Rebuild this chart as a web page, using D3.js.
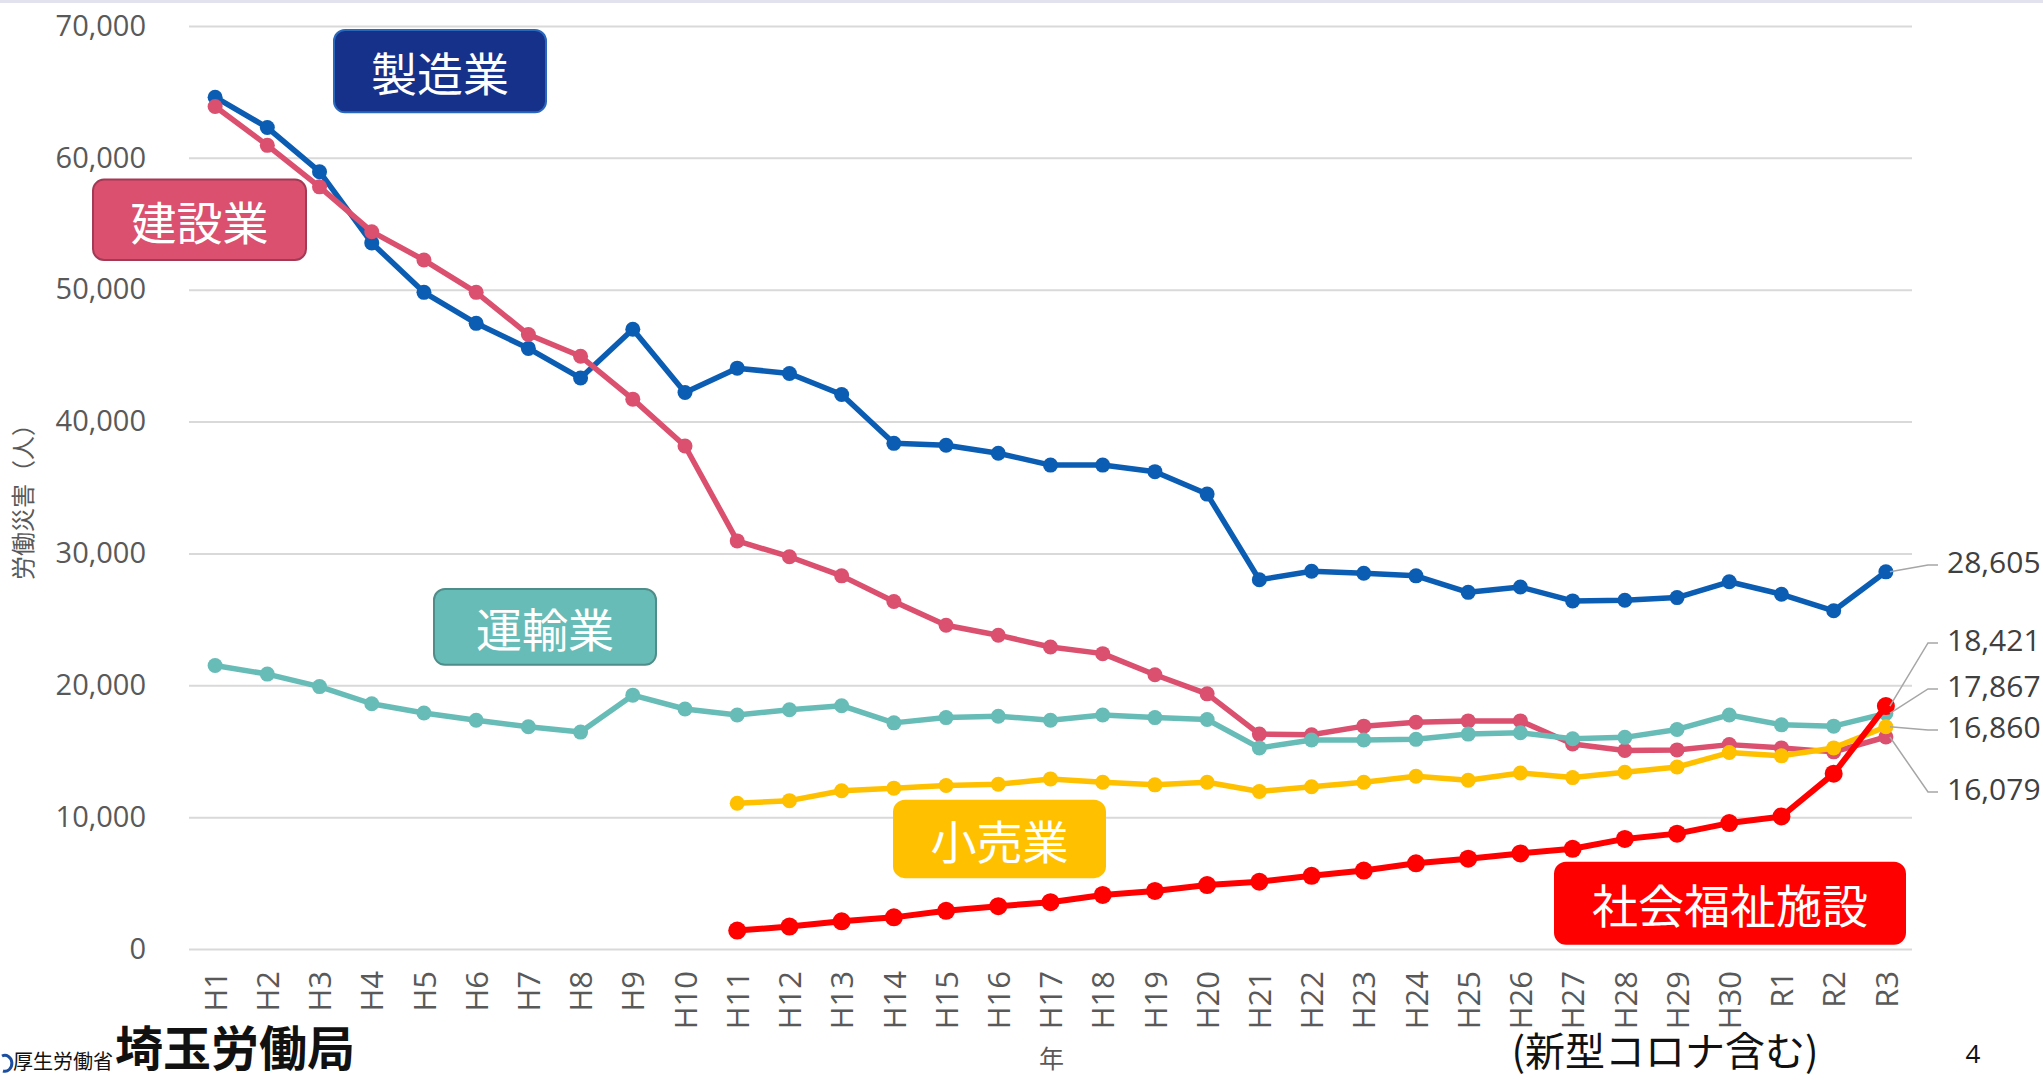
<!DOCTYPE html>
<html>
<head>
<meta charset="utf-8">
<script src="https://cdn.jsdelivr.net/npm/d3@7"></script>
<style>
  html, body { margin: 0; padding: 0; background: #fff; }
  svg { display: block; }
</style>
</head>
<body>
<div id="chart"></div>
<script>
// categories (years)
const YEARS = ["H1","H2","H3","H4","H5","H6","H7","H8","H9","H10",
  "H11","H12","H13","H14","H15","H16","H17","H18","H19","H20",
  "H21","H22","H23","H24","H25","H26","H27","H28","H29","H30","R1","R2","R3"]

const Y_TICKS = [0, 10000, 20000, 30000, 40000, 50000, 60000, 70000]

// series values (null = no data)
const manufacturing = [64600, 62300, 58950, 53550, 49800, 47450, 45550, 43300, 47000, 42200,
  44050, 43650, 42050, 38350, 38200, 37600, 36700, 36700, 36200, 34500,
  28000, 28650, 28500, 28300, 27050, 27450, 26400, 26450, 26650, 27850, 26900, 25650, 28605]

const construction = [63900, 60950, 57800, 54400, 52250, 49800, 46600, 44950, 41700, 38150,
  30950, 29750, 28300, 26350, 24550, 23800, 22900, 22400, 20800, 19350,
  16300, 16250, 16900, 17200, 17300, 17300, 15550, 15050, 15100, 15500, 15250, 14950, 16079]

const transport = [21500, 20850, 19900, 18600, 17900, 17350, 16850, 16450, 19250, 18200,
  17750, 18150, 18450, 17150, 17550, 17650, 17350, 17750, 17550, 17400,
  15250, 15850, 15850, 15900, 16300, 16400, 15950, 16050, 16650, 17750, 17000, 16900, 17867]

const retail = [null, null, null, null, null, null, null, null, null, null,
  11050, 11250, 12000, 12200, 12400, 12500, 12900, 12650, 12450, 12650,
  11950, 12300, 12650, 13100, 12800, 13350, 13000, 13400, 13800, 14900, 14650, 15250, 16860]

const welfare = [null, null, null, null, null, null, null, null, null, null,
  1400, 1700, 2100, 2400, 2900, 3250, 3550, 4100, 4400, 4850,
  5100, 5550, 5950, 6500, 6850, 7250, 7600, 8350, 8750, 9550, 10050, 13300, 18421]

const SERIES_NAMES = ["製造業", "建設業", "運輸業", "小売業", "社会福祉施設"]
const SERIES_VALUES = [manufacturing, construction, transport, retail, welfare]
const SERIES_COLORS = ["#0b5db3", "#db4f6f", "#68bcb7", "#ffc000", "#ff0000"]

// end-value labels on the right, top to bottom, with their vertical spot (data units)
const END_LABEL_SERIES = [0, 4, 2, 3, 1]
const END_LABEL_AT = [29130, 23210, 19720, 16610, 11910]

// name boxes: value at box top / bottom
const BOX_TOP = [69700, 58350, 27300, 11250, 6550]
const BOX_BOTTOM = [63450, 52250, 21550, 5450, 390]

const W = 2043, H = 1080
const margin = { top: 26, right: 131, bottom: 131, left: 189 }
const width = W - margin.left - margin.right
const height = H - margin.top - margin.bottom

const svg = d3.select("#chart").append("svg")
  .attr("width", W)
  .attr("height", H)

// thin band along the top edge
svg.append("rect").attr("x", 0).attr("y", 0).attr("width", W).attr("height", 3).attr("fill", "#e2e2ee")

const g = svg.append("g").attr("transform", "translate(" + margin.left + "," + margin.top + ")")

const x = d3.scalePoint().domain(YEARS).range([0, width]).padding(0.5)
const y = d3.scaleLinear().domain([0, 70000]).range([height, 0])

// y axis with gridlines
g.append("g")
  .call(d3.axisLeft(y).tickValues(Y_TICKS).tickSize(-width).tickPadding(43).tickFormat(d3.format(",")))
  .call(a => a.select(".domain").remove())
  .call(a => a.selectAll(".tick line").attr("stroke", "#d9d9d9").attr("stroke-width", 2))
  .call(a => a.selectAll(".tick text")
    .attr("fill", "#595959")
    .style("font-family", "'Open Sans', 'Noto Sans', sans-serif")
    .style("font-size", "29px"))

// x axis, rotated labels
g.append("g")
  .attr("transform", "translate(0," + height + ")")
  .call(d3.axisBottom(x).tickSize(0).tickPadding(0))
  .call(a => a.select(".domain").remove())
  .call(a => a.selectAll(".tick text")
    .attr("transform", "rotate(-90)")
    .attr("x", -22)
    .attr("y", 0)
    .attr("dy", "0.36em")
    .attr("text-anchor", "end")
    .attr("fill", "#595959")
    .style("font-family", "'Open Sans', 'Noto Sans', sans-serif")
    .style("font-size", "31px"))

// axis titles
svg.append("text")
  .attr("transform", "translate(25,496) rotate(-90)")
  .attr("text-anchor", "middle")
  .attr("dominant-baseline", "middle")
  .attr("fill", "#595959")
  .style("font-family", "'Noto Sans CJK JP', sans-serif")
  .style("font-size", "24px")
  .text("労働災害（人）")

svg.append("text")
  .attr("x", margin.left + x("H17") + 1)
  .attr("y", 1068)
  .attr("text-anchor", "middle")
  .attr("fill", "#595959")
  .style("font-family", "'Noto Sans CJK JP', sans-serif")
  .style("font-size", "25px")
  .text("年")

// lines + markers
const line = d3.line()
  .defined(d => d != null)
  .x((d, i) => x(YEARS[i]))
  .y(d => y(d))

SERIES_VALUES.forEach((vals, si) => {
  const isRed = si === 4
  const sg = g.append("g")
  sg.append("path")
    .datum(vals)
    .attr("fill", "none")
    .attr("stroke", SERIES_COLORS[si])
    .attr("stroke-width", isRed ? 6 : 5.5)
    .attr("stroke-linejoin", "round")
    .attr("d", line)
  sg.selectAll("circle")
    .data(vals.map((v, i) => ({ v, i })).filter(d => d.v != null))
    .enter().append("circle")
    .attr("cx", d => x(YEARS[d.i]))
    .attr("cy", d => y(d.v))
    .attr("r", isRed ? 9 : 7.5)
    .attr("fill", SERIES_COLORS[si])
})

// end labels with leader lines
const last = YEARS[YEARS.length - 1]
END_LABEL_SERIES.forEach((si, k) => {
  const v = SERIES_VALUES[si][YEARS.length - 1]
  const ly = y(END_LABEL_AT[k])
  g.append("path")
    .attr("fill", "none")
    .attr("stroke", "#a6a6a6")
    .attr("stroke-width", 1.5)
    .attr("d", d3.line()([[x(last) + 4, y(v)], [width + 16, ly], [width + 26, ly]]))
  g.append("text")
    .attr("x", width + 35)
    .attr("y", ly)
    .attr("dominant-baseline", "middle")
    .attr("fill", "#404040")
    .style("font-family", "'Open Sans', 'Noto Sans', sans-serif")
    .style("font-size", "30px")
    .text(d3.format(",")(v))
})

// name boxes
const BOX_FILL = ["#16318a", "#db4f6f", "#68bcb7", "#ffc000", "#ff0000"]
const BOX_STROKE = ["#2a68bd", "#a33a55", "#4e8d89", "#ffc000", "#ff0000"]
const BOX_W = [212, 213, 222, 211, 350]
const BOX_X = [145, -96, 245, 705, 1366]
SERIES_NAMES.forEach((name, k) => {
  const top = y(BOX_TOP[k]), bot = y(BOX_BOTTOM[k])
  const bx = BOX_X[k]
  g.append("rect")
    .attr("x", bx)
    .attr("y", top)
    .attr("width", BOX_W[k])
    .attr("height", bot - top)
    .attr("rx", 11)
    .attr("fill", BOX_FILL[k])
    .attr("stroke", BOX_STROKE[k])
    .attr("stroke-width", 2)
  g.append("text")
    .attr("x", bx + BOX_W[k] / 2)
    .attr("y", (top + bot) / 2)
    .attr("text-anchor", "middle")
    .attr("dominant-baseline", "central")
    .attr("fill", "#fff")
    .style("font-family", "'Noto Sans CJK JP', sans-serif")
    .style("font-size", "46px")
    .text(name)
})

// footer
const foot = svg.append("g")
foot.append("path")
  .attr("d", "M2,1056 A7,8 0 1 1 3,1071")
  .attr("fill", "none")
  .attr("stroke", "#1d4fa0")
  .attr("stroke-width", 3)
foot.append("text")
  .attr("x", 13).attr("y", 1069)
  .attr("fill", "#111")
  .style("font-family", "'Noto Sans CJK JP', sans-serif")
  .style("font-size", "20px")
  .text("厚生労働省")
foot.append("text")
  .attr("x", 115).attr("y", 1066)
  .attr("fill", "#111")
  .style("font-family", "'Noto Sans CJK JP', sans-serif")
  .style("font-size", "48px")
  .style("font-weight", "bold")
  .text("埼玉労働局")
foot.append("text")
  .attr("x", 1665).attr("y", 1066)
  .attr("text-anchor", "middle")
  .attr("fill", "#111")
  .style("font-family", "'Noto Sans CJK JP', sans-serif")
  .style("font-size", "40px")
  .text("(新型コロナ含む)")
foot.append("text")
  .attr("x", 1973).attr("y", 1063)
  .attr("text-anchor", "middle")
  .attr("fill", "#111")
  .style("font-family", "'Open Sans', sans-serif")
  .style("font-size", "26px")
  .text("4")
</script>
</body>
</html>
